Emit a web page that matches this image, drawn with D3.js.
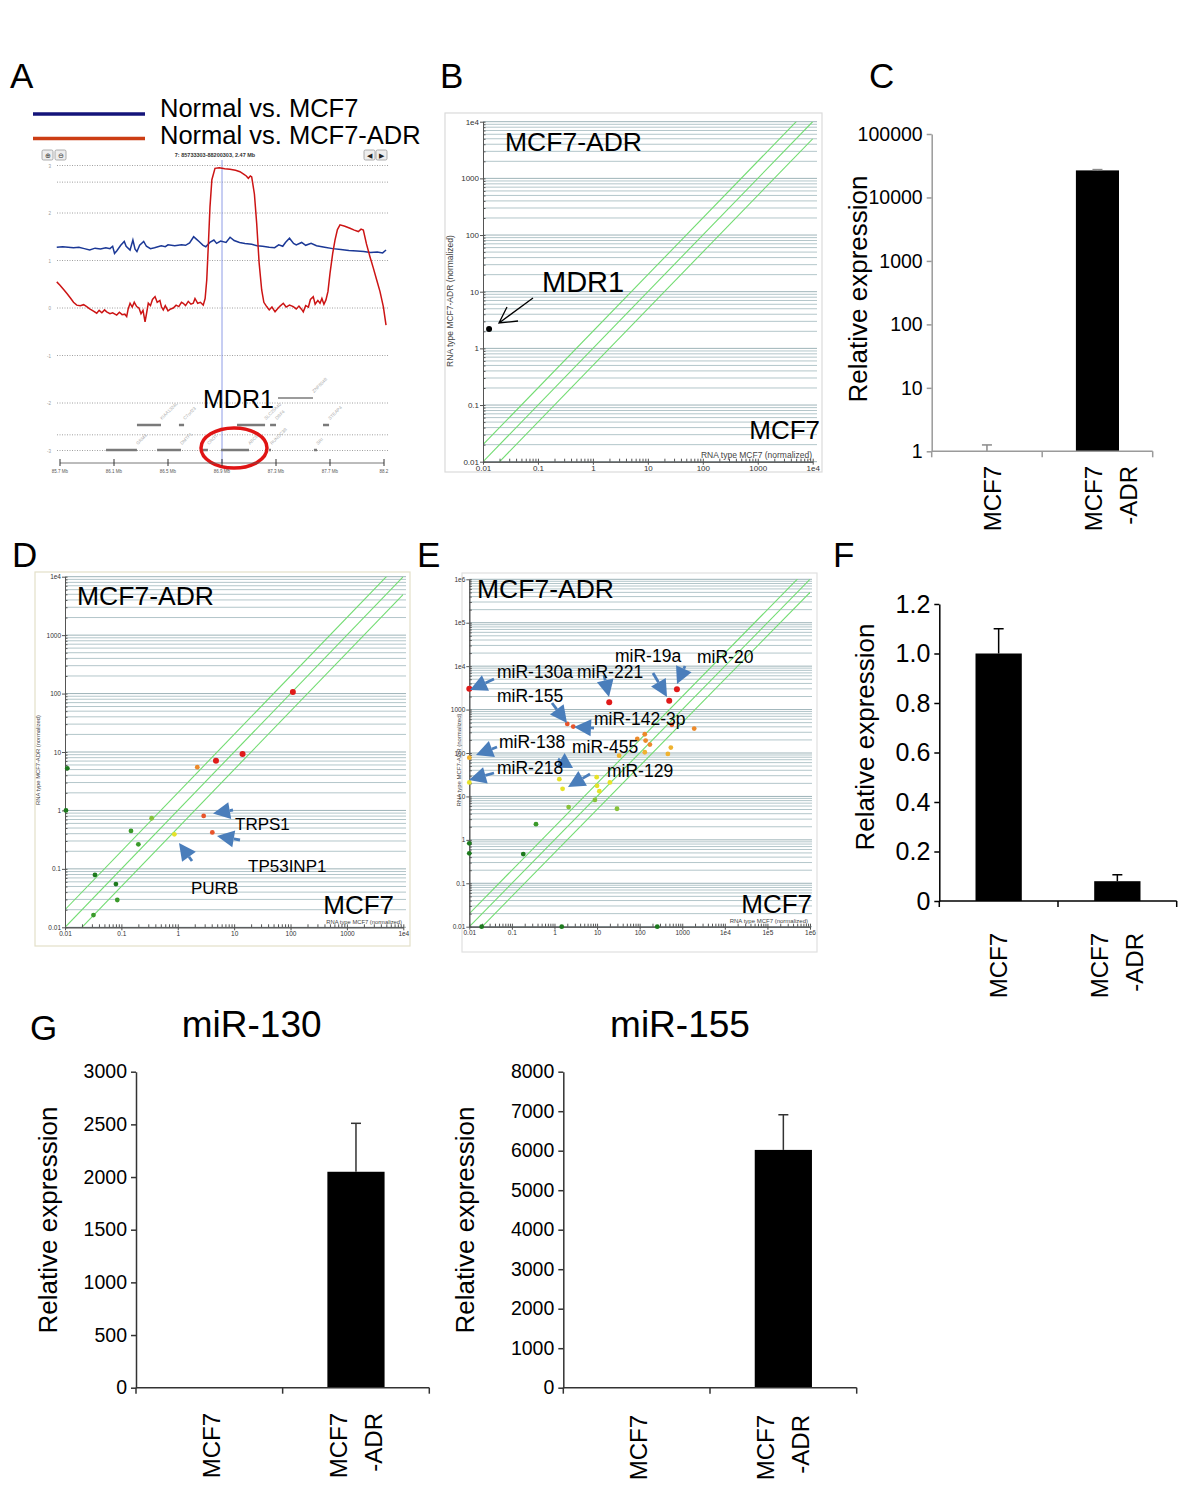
<!DOCTYPE html>
<html>
<head>
<meta charset="utf-8">
<script src="https://cdn.jsdelivr.net/npm/d3@7.9.0/dist/d3.min.js"></script>
<style>
  body { margin: 0; background: #fff; }
  text { font-family: "Liberation Sans", Arial, sans-serif; }
</style>
</head>
<body>
<svg id="fig" width="1200" height="1486"></svg>
<script>
// ---------------- data ----------------

// A: copy number traces, position (Mb) and log2 ratio
const aRedMb = [85.676,85.70,85.73,85.75,85.78,85.80,85.824,85.85,85.875,85.898,85.92,85.945,85.972,85.99,86.01,86.03,86.046,86.07,86.09,86.12,86.14,86.16,86.18,86.194,86.205,86.219,86.235,86.25,86.268,86.285,86.30,86.315,86.33,86.342,86.354,86.37,86.385,86.404,86.42,86.44,86.452,86.465,86.48,86.50,86.52,86.539,86.56,86.58,86.60,86.613,86.63,86.65,86.67,86.687,86.70,86.72,86.74,86.761,86.775,86.787,86.80,86.811,86.825,86.848,86.88,86.92,86.959,87.00,87.033,87.06,87.08,87.095,87.11,87.12,87.14,87.157,87.175,87.194,87.21,87.231,87.25,87.27,87.293,87.31,87.33,87.354,87.375,87.40,87.428,87.45,87.47,87.49,87.502,87.52,87.54,87.555,87.576,87.59,87.61,87.626,87.64,87.655,87.67,87.685,87.70,87.72,87.737,87.755,87.774,87.81,87.848,87.88,87.91,87.93,87.947,87.97,87.996,88.02,88.046,88.07,88.095,88.115];
const aRedVal = [0.55,0.48,0.38,0.31,0.20,0.12,0.06,0.05,0.07,0.03,-0.02,-0.06,-0.11,-0.05,-0.10,-0.04,-0.08,-0.12,-0.10,-0.15,-0.09,-0.14,-0.13,-0.18,-0.02,0.10,0.02,0.12,0.03,0.00,-0.12,-0.05,-0.29,-0.10,0.10,0.05,0.18,0.24,0.12,0.16,0.02,-0.04,0.05,-0.06,-0.02,0.00,0.06,0.03,0.12,0.10,0.05,0.14,0.08,0.10,0.20,0.10,0.12,0.06,0.20,0.59,1.40,2.13,2.70,2.94,2.95,2.93,2.92,2.90,2.87,2.82,2.78,2.73,2.78,2.76,2.40,1.78,0.95,0.38,0.12,0.03,-0.04,0.02,-0.08,-0.02,0.04,0.10,0.02,0.06,0.03,-0.02,0.04,-0.03,-0.08,0.05,0.02,0.18,0.24,0.08,0.16,0.10,0.20,0.08,0.17,0.35,0.73,1.15,1.43,1.65,1.75,1.72,1.68,1.64,1.61,1.66,1.64,1.35,1.08,0.85,0.59,0.35,0.03,-0.36];
const aBlueMb = [85.676,85.72,85.76,85.80,85.84,85.88,85.92,85.96,86.00,86.04,86.07,86.09,86.104,86.12,86.15,86.176,86.19,86.219,86.24,86.256,86.27,86.29,86.32,86.34,86.37,86.40,86.45,86.48,86.50,86.55,86.60,86.63,86.66,86.69,86.71,86.73,86.76,86.78,86.81,86.84,86.86,86.89,86.93,86.96,86.99,87.03,87.07,87.12,87.16,87.20,87.25,87.29,87.32,87.35,87.37,87.40,87.43,87.45,87.49,87.52,87.56,87.60,87.66,87.72,87.78,87.84,87.90,87.95,88.00,88.05,88.09,88.115];
const aBlueVal = [1.28,1.29,1.28,1.27,1.28,1.25,1.22,1.26,1.24,1.27,1.25,1.30,1.15,1.20,1.32,1.40,1.30,1.22,1.43,1.24,1.19,1.32,1.40,1.30,1.25,1.27,1.31,1.29,1.33,1.31,1.33,1.32,1.37,1.50,1.45,1.40,1.32,1.29,1.38,1.43,1.36,1.41,1.38,1.49,1.42,1.38,1.36,1.34,1.31,1.30,1.28,1.27,1.33,1.30,1.38,1.47,1.36,1.33,1.38,1.32,1.36,1.31,1.28,1.25,1.23,1.21,1.20,1.19,1.17,1.18,1.16,1.22];
const aTickMb = [85.7, 86.1, 86.5, 86.9, 87.3, 87.7, 88.1];
const aTickLabels = ["85.7 Mb", "86.1 Mb", "86.5 Mb", "86.9 Mb", "87.3 Mb", "87.7 Mb", "88.2"];
const aGridVals = [3, 2.65, 2, 1, 0, -1, -2, -2.67, -3];
const aAxisVals = [3, 2, 1, 0, -1, -2, -3];
const geneNames = ["ZNF804B", "KIAA1324L", "C7orf23", "SLC25A40", "DBF4", "STEAP4", "GRM3", "DMTF1", "CROT", "ABCB1", "RUNDC3B", "SRI"];
const geneStart = [87.315, 86.27, 86.581, 87.011, 87.256, 87.648, 86.041, 86.419, 86.759, 86.893, 87.248, 87.581];
const geneEnd   = [87.574, 86.448, 86.619, 87.219, 87.30, 87.693, 86.27, 86.596, 86.796, 87.10, 87.263, 87.604];
const geneRow   = [0, 1, 1, 1, 1, 1, 2, 2, 2, 2, 2, 2];

// B: MDR1 microarray scatter (MCF7 vs MCF7-ADR, normalized)
const bX = [0.0129];
const bY = [2.19];
const bGroup = [8];

// D: gene scatter
const dX = [0.011, 0.0104, 0.034, 0.032, 0.080, 0.0846, 0.148, 0.2, 0.344, 0.87, 2.22, 4.76, 14.1, 110, 2.88, 4.1];
const dY = [5.25, 1.0, 0.0787, 0.0162, 0.055, 0.0293, 0.446, 0.263, 0.735, 0.39, 5.5, 7.1, 9.2, 106, 0.805, 0.42];
const dGroup = [0, 0, 0, 1, 0, 1, 1, 1, 2, 3, 5, 7, 7, 7, 6, 6];

// E: miRNA scatter
const eX = [0.01, 19.3, 495, 750, 2.0, 2.76, 570, 1910, 132, 138, 88, 174, 132, 540, 460, 33, 0.01, 0.01, 1.3, 1.55, 9.8, 10, 11.3, 20, 8.9, 2.15, 29.4, 0.368, 0.185, 0.01, 0.01, 0.0195, 1.48, 259];
const eY = [3000, 1480, 1590, 2950, 468, 405, 445, 365, 270, 193, 211, 156, 104, 133, 95, 87, 78, 21, 25, 15, 27.7, 17.5, 13.2, 21, 8.3, 5.7, 5.2, 2.3, 0.47, 0.83, 0.49, 0.01, 0.01, 0.01];
const eGroup = [7, 7, 7, 7, 6, 6, 6, 5, 5, 5, 5, 5, 4, 4, 4, 4, 4, 3, 3, 3, 3, 3, 3, 3, 2, 2, 2, 1, 0, 0, 0, 0, 0, 0];

const foldLines = [2, 1, 0.5];
const groupColors = ["#1d7a1d", "#3a9a2a", "#86c23a", "#e6e22a", "#efb230", "#ec8a2a", "#e8542a", "#e01a1a", "#000000"];

// C, F, G: qPCR bars
const cellLines = ["MCF7", "MCF7-ADR"];
const cValues = [1, 26700];
const cErrors = [0.26, 800];
const cTicks = [1, 10, 100, 1000, 10000, 100000];
const fValues = [1.0, 0.08];
const fErrors = [0.10, 0.026];
const fTicks = [0, 0.2, 0.4, 0.6, 0.8, 1.0, 1.2];
const g130Values = [1, 2050];
const g130Errors = [0, 460];
const g130Ticks = [0, 500, 1000, 1500, 2000, 2500, 3000];
const g155Values = [1, 6020];
const g155Errors = [0, 890];
const g155Ticks = [0, 1000, 2000, 3000, 4000, 5000, 6000, 7000, 8000];

// ---------------- drawing ----------------
const svg = d3.select("#fig");
svg.append("rect").attr("width", 1200).attr("height", 1486).attr("fill", "#fff");

// panel letters
const letters = ["A", "B", "C", "D", "E", "F", "G"];
const letterXY = [[10, 88], [440, 88], [869, 88], [12, 567], [417, 567], [833, 567], [30, 1040]];
svg.selectAll("text.letter").data(letters).join("text")
  .attr("class", "letter")
  .attr("x", (d, i) => letterXY[i][0]).attr("y", (d, i) => letterXY[i][1])
  .attr("font-size", 35).text(d => d);

// ===== Panel A =====
const gA = svg.append("g");
const xA = d3.scaleLinear().domain([85.7, 88.1]).range([60, 384]);
const yA = d3.scaleLinear().domain([-3, 3]).range([450.5, 165.5]);

// legend
gA.append("line").attr("x1", 33).attr("x2", 145).attr("y1", 114).attr("y2", 114).attr("stroke", "#14147a").attr("stroke-width", 3.5);
gA.append("line").attr("x1", 33).attr("x2", 145).attr("y1", 138.5).attr("y2", 138.5).attr("stroke", "#cc3d14").attr("stroke-width", 3.5);
gA.append("text").attr("x", 160).attr("y", 116.5).attr("font-size", 25.5).text("Normal vs. MCF7");
gA.append("text").attr("x", 160).attr("y", 144).attr("font-size", 25.5).text("Normal vs. MCF7-ADR");

// browser toolbar
[[42, 150], [55, 150], [364, 150], [376, 150]].forEach(p => {
  gA.append("rect").attr("x", p[0]).attr("y", p[1]).attr("width", 11).attr("height", 10)
    .attr("rx", 1.5).attr("fill", "#eee").attr("stroke", "#999").attr("stroke-width", 0.8);
});
gA.append("text").attr("x", 47.5).attr("y", 158).attr("font-size", 7).attr("text-anchor", "middle").attr("fill", "#333").text("⊕");
gA.append("text").attr("x", 60.5).attr("y", 158).attr("font-size", 7).attr("text-anchor", "middle").attr("fill", "#333").text("⊖");
gA.append("text").attr("x", 369.5).attr("y", 158).attr("font-size", 7).attr("text-anchor", "middle").attr("fill", "#222").text("◀");
gA.append("text").attr("x", 381.5).attr("y", 158).attr("font-size", 7).attr("text-anchor", "middle").attr("fill", "#222").text("▶");
gA.append("text").attr("x", 215).attr("y", 157).attr("font-size", 5.5).attr("font-weight", "bold")
  .attr("text-anchor", "middle").attr("fill", "#333").text("7: 85733303-88200303, 2.47 Mb");

// dotted grid
gA.selectAll("line.agrid").data(aGridVals).join("line")
  .attr("x1", 57).attr("x2", 388).attr("y1", d => yA(d)).attr("y2", d => yA(d))
  .attr("stroke", "#888").attr("stroke-width", 0.8).attr("stroke-dasharray", "1,1.5");
gA.selectAll("text.aylab").data(aAxisVals).join("text")
  .attr("x", 51).attr("y", d => yA(d) + 2).attr("font-size", 4.5).attr("fill", "#999")
  .attr("text-anchor", "end").text(d => d);

// cursor line
gA.append("line").attr("x1", 222).attr("x2", 222).attr("y1", 160).attr("y2", 463)
  .attr("stroke", "#8e9ce6").attr("stroke-width", 1);

// traces
const lineA = d3.line().x(d => xA(d[0])).y(d => yA(d[1]));
gA.append("path").datum(d3.zip(aBlueMb, aBlueVal)).attr("d", lineA)
  .attr("fill", "none").attr("stroke", "#1b3896").attr("stroke-width", 1.5);
gA.append("path").datum(d3.zip(aRedMb, aRedVal)).attr("d", lineA)
  .attr("fill", "none").attr("stroke", "#cc1414").attr("stroke-width", 1.5);

// genes
const rowY = [398, 425, 450];
gA.selectAll("line.gene").data(geneNames).join("line")
  .attr("x1", (d, i) => xA(geneStart[i])).attr("x2", (d, i) => xA(geneEnd[i]))
  .attr("y1", (d, i) => rowY[geneRow[i]]).attr("y2", (d, i) => rowY[geneRow[i]])
  .attr("stroke", "#7a7a7a").attr("stroke-width", (d, i) => geneRow[i] === 0 ? 1.5 : 2.5);
gA.selectAll("text.gname").data(geneNames).join("text")
  .attr("transform", (d, i) => `translate(${xA(geneEnd[i]) + 1},${rowY[geneRow[i]] - 5}) rotate(-45)`)
  .attr("font-size", 4.5).attr("fill", "#aaa").text(d => d);

// MDR1 label and circle
gA.append("text").attr("x", 203).attr("y", 408).attr("font-size", 25).text("MDR1");
gA.append("ellipse").attr("cx", 234).attr("cy", 448).attr("rx", 33).attr("ry", 20)
  .attr("fill", "none").attr("stroke", "#e01414").attr("stroke-width", 3.5);

// x axis
gA.append("line").attr("x1", 60).attr("x2", 384).attr("y1", 463).attr("y2", 463).attr("stroke", "#555").attr("stroke-width", 0.8);
gA.selectAll("line.atick").data(aTickMb).join("line")
  .attr("x1", d => xA(d)).attr("x2", d => xA(d)).attr("y1", 459).attr("y2", 466)
  .attr("stroke", "#333").attr("stroke-width", 1);
gA.selectAll("text.axl").data(aTickMb).join("text")
  .attr("x", d => xA(d)).attr("y", 473).attr("font-size", 4.5).attr("fill", "#555")
  .attr("text-anchor", "middle").text((d, i) => aTickLabels[i]);

// ===== scatter panels (B, D, E) =====
function minorValues(dom) {
  const out = [];
  const e0 = Math.round(Math.log10(dom[0])), e1 = Math.round(Math.log10(dom[1]));
  for (let e = e0; e < e1; e++) for (let k = 1; k <= 9; k++) out.push(+(k * Math.pow(10, e)).toPrecision(3));
  out.push(dom[1]);
  return out;
}
function majorValues(dom) {
  const out = [];
  const e0 = Math.round(Math.log10(dom[0])), e1 = Math.round(Math.log10(dom[1]));
  for (let e = e0; e <= e1; e++) out.push(+Math.pow(10, e).toPrecision(3));
  return out;
}
const logLabel = d => {
  const e = Math.round(Math.log10(d));
  if (e >= 4) return "1e" + e;
  return e < 0 ? d.toString() : String(Math.round(d));
};

function blueArrow(g, x1, y1, x2, y2) {
  const col = "#4a7ebb";
  const dx = x2 - x1, dy = y2 - y1, L = Math.hypot(dx, dy);
  const ux = dx / L, uy = dy / L;
  const head = Math.min(17, L * 0.85), hw = 8.5;
  const bx = x2 - ux * head, by = y2 - uy * head;
  g.append("line").attr("x1", x1).attr("y1", y1).attr("x2", bx).attr("y2", by)
    .attr("stroke", col).attr("stroke-width", 2.8);
  g.append("path")
    .attr("d", `M${x2},${y2}L${bx - uy * hw},${by + ux * hw}L${bx + uy * hw},${by - ux * hw}Z`)
    .attr("fill", col);
}

let clipCount = 0;
function scatter(cfg) {
  const g = svg.append("g");
  const x = d3.scaleLog().domain(cfg.xDom).range(cfg.xRange);
  const y = d3.scaleLog().domain(cfg.yDom).range(cfg.yRange);
  const f = cfg.frame;
  g.append("rect").attr("x", f[0]).attr("y", f[1]).attr("width", f[2] - f[0]).attr("height", f[3] - f[1])
    .attr("fill", "none").attr("stroke", cfg.frameColor).attr("stroke-width", 1.2);

  const yMin = minorValues(cfg.yDom);
  const yMaj = majorValues(cfg.yDom);
  const xMin = minorValues(cfg.xDom);
  const xMaj = majorValues(cfg.xDom);

  g.selectAll("line.grid").data(yMin).join("line")
    .attr("x1", cfg.xRange[0]).attr("x2", cfg.gridRight)
    .attr("y1", d => y(d)).attr("y2", d => y(d))
    .attr("stroke", d => yMaj.includes(d) ? "#9db3b8" : "#b3c6ca").attr("stroke-width", 1);

  // fold-change diagonals
  const cid = "clip" + (clipCount++);
  g.append("clipPath").attr("id", cid).append("rect")
    .attr("x", cfg.xRange[0]).attr("y", cfg.yRange[1])
    .attr("width", cfg.xRange[1] - cfg.xRange[0]).attr("height", cfg.yRange[0] - cfg.yRange[1]);
  g.append("g").attr("clip-path", `url(#${cid})`).selectAll("line").data(foldLines).join("line")
    .attr("x1", x(cfg.xDom[0])).attr("y1", k => y(cfg.xDom[0] * k))
    .attr("x2", x(cfg.xDom[1])).attr("y2", k => y(cfg.xDom[1] * k))
    .attr("stroke", "#72dc72").attr("stroke-width", 1.1);

  // axes
  const styleAxis = sel => {
    sel.select(".domain").attr("stroke", "#555");
    sel.selectAll(".tick line").attr("stroke", "#555");
    sel.selectAll(".tick text").attr("fill", "#333").attr("font-size", cfg.tickFont)
      .attr("font-family", "'Liberation Sans', Arial, sans-serif");
  };
  g.append("g").attr("transform", `translate(${cfg.xRange[0]},0)`)
    .call(d3.axisLeft(y).tickValues(yMaj).tickSize(3).tickSizeOuter(0).tickPadding(1).tickFormat(logLabel)).call(styleAxis);
  g.append("g").attr("transform", `translate(${cfg.xRange[0]},0)`)
    .call(d3.axisLeft(y).tickValues(yMin).tickSize(-2.5).tickSizeOuter(0).tickFormat("")).call(styleAxis);
  g.append("g").attr("transform", `translate(0,${cfg.yRange[0]})`)
    .call(d3.axisBottom(x).tickValues(xMaj).tickSize(3).tickSizeOuter(0).tickPadding(1).tickFormat(logLabel)).call(styleAxis);
  g.append("g").attr("transform", `translate(0,${cfg.yRange[0]})`)
    .call(d3.axisBottom(x).tickValues(xMin).tickSize(-3).tickSizeOuter(0).tickFormat("")).call(styleAxis);

  // axis titles
  g.append("text").attr("transform", `translate(${cfg.yTitleXY[0]},${cfg.yTitleXY[1]}) rotate(-90)`)
    .attr("text-anchor", "middle").attr("font-size", cfg.titleFont).attr("fill", "#444")
    .text("RNA type MCF7-ADR  (normalized)");
  g.append("text").attr("x", cfg.xTitleXY[0]).attr("y", cfg.xTitleXY[1])
    .attr("text-anchor", "end").attr("font-size", cfg.titleFont).attr("fill", "#444")
    .text("RNA type MCF7  (normalized)");

  // big labels
  g.append("text").attr("x", cfg.adrXY[0]).attr("y", cfg.adrXY[1]).attr("font-size", 26.5).text("MCF7-ADR");
  g.append("text").attr("x", cfg.mcfXY[0]).attr("y", cfg.mcfXY[1]).attr("font-size", 26).attr("text-anchor", "end").text("MCF7");

  // points
  g.selectAll("circle").data(cfg.xs).join("circle")
    .attr("cx", (d, i) => x(d)).attr("cy", (d, i) => y(cfg.ys[i]))
    .attr("r", (d, i) => cfg.groups[i] >= 7 ? 3 : 2.4)
    .attr("fill", (d, i) => groupColors[cfg.groups[i]]);

  (cfg.arrows || []).forEach(a => blueArrow(g, a[0], a[1], a[2], a[3]));
  (cfg.notes || []).forEach(n => {
    g.append("text").attr("x", n[1]).attr("y", n[2]).attr("font-size", n[3]).text(n[0]);
  });
  return { g, x, y };
}

// B
const B = scatter({
  xDom: [0.01, 1e4], yDom: [0.01, 1e4],
  xRange: [483, 812.7], yRange: [461.7, 121.7], gridRight: 817,
  frame: [445, 113, 822, 472], frameColor: "#dadada",
  tickFont: 8, titleFont: 8.5, yTitleXY: [453, 301], xTitleXY: [812, 458],
  adrXY: [505, 151], mcfXY: [820, 439],
  xs: bX, ys: bY, groups: bGroup,
  notes: [["MDR1", 542, 292, 29]]
});
B.g.append("path").attr("d", "M533,298L499,323M507,307L499,323L518,321")
  .attr("fill", "none").attr("stroke", "#000").attr("stroke-width", 1.3);

// D
scatter({
  xDom: [0.01, 1e4], yDom: [0.01, 1e4],
  xRange: [65, 403.3], yRange: [927.3, 576.7], gridRight: 406,
  frame: [35, 572, 410, 946], frameColor: "#e3dfc9",
  tickFont: 6.5, titleFont: 5.8, yTitleXY: [40, 760], xTitleXY: [402, 924],
  adrXY: [77, 605], mcfXY: [394, 914],
  xs: dX, ys: dY, groups: dGroup,
  arrows: [[233, 810, 213, 813.5], [240, 840, 217, 836], [192, 861, 179, 843]],
  notes: [["TRPS1", 235, 830, 17], ["TP53INP1", 248, 872, 17], ["PURB", 191, 894, 17]]
});

// E
scatter({
  xDom: [0.01, 1e6], yDom: [0.01, 1e6],
  xRange: [469.3, 810], yRange: [926.7, 579.3], gridRight: 812,
  frame: [462, 573, 817, 952], frameColor: "#e0e0e0",
  tickFont: 6.5, titleFont: 6, yTitleXY: [461, 760], xTitleXY: [808, 923],
  adrXY: [477, 598], mcfXY: [812, 913],
  xs: eX, ys: eY, groups: eGroup,
  arrows: [[494, 679, 470, 690], [604, 675, 609, 697], [653, 673, 667, 697], [685, 666, 677, 684],
           [552, 703, 567, 723], [594, 728, 574, 727], [497, 747, 476, 755], [494, 773, 469, 780],
           [558, 759, 573, 768], [590, 774, 568, 787]],
  notes: [["miR-130a", 497, 678, 17.5], ["miR-221", 577, 678, 17.5], ["miR-19a", 615, 662, 17.5],
          ["miR-20", 697, 663, 17.5], ["miR-155", 497, 702, 17.5], ["miR-142-3p", 594, 725, 17.5],
          ["miR-138", 499, 748, 17.5], ["miR-455", 572, 753, 17.5], ["miR-218", 497, 774, 17.5],
          ["miR-129", 607, 777, 17.5]]
});

// ===== bar panels (C, F, G) =====
function bars(cfg) {
  const g = svg.append("g");
  const x = d3.scaleBand().domain(cellLines).range([cfg.x0, cfg.x1]);
  const y = (cfg.log ? d3.scaleLog() : d3.scaleLinear()).domain(cfg.yDom).range(cfg.yRange);
  const base = cfg.yRange[0];
  const bw = x.bandwidth() * 0.39;

  g.selectAll("rect.bar").data(cfg.values).join("rect")
    .attr("x", (d, i) => x(cellLines[i]) + x.bandwidth() / 2 - bw / 2)
    .attr("y", d => y(d)).attr("width", bw).attr("height", d => base - y(d))
    .attr("fill", "#000");

  // error bars
  cfg.values.forEach((v, i) => {
    if (!cfg.errors[i]) return;
    const cx = x(cellLines[i]) + x.bandwidth() / 2;
    const top = y(v + cfg.errors[i]);
    g.append("line").attr("x1", cx).attr("x2", cx).attr("y1", y(v)).attr("y2", top)
      .attr("stroke", cfg.errColor).attr("stroke-width", 1.5);
    g.append("line").attr("x1", cx - 5).attr("x2", cx + 5).attr("y1", top).attr("y2", top)
      .attr("stroke", cfg.errColor).attr("stroke-width", 1.5);
  });

  // y axis
  const ya = g.append("g").attr("transform", `translate(${cfg.x0},0)`)
    .call(d3.axisLeft(y).tickValues(cfg.ticks).tickSize(5).tickSizeOuter(0).tickPadding(4).tickFormat(cfg.fmt));
  ya.select(".domain").attr("stroke", cfg.axisColor).attr("stroke-width", 1.5);
  ya.selectAll(".tick line").attr("stroke", cfg.axisColor).attr("stroke-width", 1.5);
  ya.selectAll(".tick text").attr("fill", "#000").attr("font-size", cfg.tickFont)
    .attr("font-family", "'Liberation Sans', Arial, sans-serif");

  // x axis with ticks at band edges
  g.append("line").attr("x1", cfg.x0).attr("x2", cfg.x1).attr("y1", base).attr("y2", base)
    .attr("stroke", cfg.axisColor).attr("stroke-width", 1.5);
  const edges = [cfg.x0, x(cellLines[1]), cfg.x1];
  g.selectAll("line.xt").data(edges).join("line")
    .attr("x1", d => d).attr("x2", d => d).attr("y1", base).attr("y2", base + 6)
    .attr("stroke", cfg.axisColor).attr("stroke-width", 1.5);

  // rotated category labels
  cellLines.forEach((c, i) => {
    const cx = x(c) + x.bandwidth() / 2 + cfg.labelShift[i];
    const lines = c === "MCF7-ADR" ? ["MCF7", "-ADR"] : [c];
    lines.forEach((t, j) => {
      const lx = cx + (lines.length === 2 ? (j - 0.5) * 35 : 0);
      g.append("text").attr("transform", `translate(${lx},${cfg.labelTop}) rotate(-90)`)
        .attr("text-anchor", "end").attr("dy", "0.35em").attr("font-size", 24).text(t);
    });
  });

  // y title
  g.append("text").attr("transform", `translate(${cfg.yTitleXY[0]},${cfg.yTitleXY[1]}) rotate(-90)`)
    .attr("text-anchor", "middle").attr("dy", "0.35em").attr("font-size", 26).text("Relative expression");

  if (cfg.heading) {
    g.append("text").attr("x", (cfg.x0 + cfg.x1) / 2 + cfg.headingShift).attr("y", 1037)
      .attr("text-anchor", "middle").attr("font-size", 37).text(cfg.heading);
  }
}

bars({
  log: true, yDom: [1, 100000], yRange: [451.3, 134], x0: 931.7, x1: 1152.7,
  values: cValues, errors: cErrors, ticks: cTicks, fmt: d3.format("d"),
  axisColor: "#9a9a9a", errColor: "#8a8a8a", tickFont: 19.5,
  labelTop: 466, labelShift: [6, 14], yTitleXY: [858, 289]
});
bars({
  log: false, yDom: [0, 1.2], yRange: [901, 604], x0: 939.3, x1: 1176.7,
  values: fValues, errors: fErrors, ticks: fTicks, fmt: d => d === 0 ? "0" : d3.format(".1f")(d),
  axisColor: "#000", errColor: "#000", tickFont: 25,
  labelTop: 933, labelShift: [0, 0], yTitleXY: [865, 737]
});
bars({
  log: false, yDom: [0, 3000], yRange: [1387.7, 1071.7], x0: 136, x1: 429.3,
  values: g130Values, errors: g130Errors, ticks: g130Ticks, fmt: d3.format("d"),
  axisColor: "#333", errColor: "#333", tickFont: 19.5,
  labelTop: 1413, labelShift: [2, 0], yTitleXY: [48, 1220],
  heading: "miR-130", headingShift: -31
});
bars({
  log: false, yDom: [0, 8000], yRange: [1387.7, 1071.7], x0: 563.3, x1: 856.7,
  values: g155Values, errors: g155Errors, ticks: g155Ticks, fmt: d3.format("d"),
  axisColor: "#333", errColor: "#333", tickFont: 19.5,
  labelTop: 1415, labelShift: [2, 0], yTitleXY: [465, 1220],
  heading: "miR-155", headingShift: -30
});
</script>
</body>
</html>
